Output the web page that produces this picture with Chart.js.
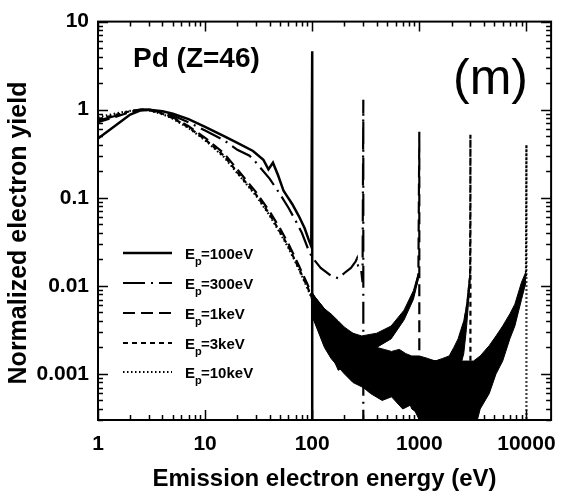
<!DOCTYPE html>
<html>
<head>
<meta charset="utf-8">
<script src="https://cdn.jsdelivr.net/npm/chart.js@4.4.0/dist/chart.umd.min.js"></script>
<style>
html, body { margin: 0; padding: 0; background: #fff; }
canvas { display: block; }
</style>
</head>
<body>
<canvas id="myChart" width="568" height="498"></canvas>
<script>
// tick labels
const xTicks = [1, 10, 100, 1000, 10000];
const yTicks = [0.001, 0.01, 0.1, 1, 10];

// primary energies and heights of the elastic peaks
const primaryE = [100, 300, 1000, 3000, 10000];
const elasticPeak = [4.6, 1.3, 0.56, 0.52, 0.4];
const legendText = ['=100eV', '=300eV', '=1keV', '=3keV', '=10keV'];

// Ep = 100 eV
const e100 = [1, 1.5, 2, 2.5, 3, 4, 5, 7, 10, 15, 20, 28, 35, 39, 43, 48, 54, 58, 65, 75, 85, 93, 98];
const y100 = [0.47, 0.68, 0.88, 0.98, 1.0, 0.96, 0.9, 0.78, 0.64, 0.5, 0.42, 0.34, 0.27, 0.21, 0.25, 0.18, 0.12, 0.105, 0.085, 0.062, 0.045, 0.033, 0.028];

// Ep = 300 eV
const e300 = [1, 1.5, 2, 2.5, 3, 4, 5, 7, 10, 15, 20, 26, 30, 40, 50, 60, 70, 80, 93, 100, 120, 150, 175, 200, 230, 255, 262, 268, 285, 295];
const y300 = [0.75, 0.86, 0.95, 1.0, 1.0, 0.94, 0.86, 0.72, 0.58, 0.45, 0.35, 0.3, 0.25, 0.165, 0.11, 0.077, 0.055, 0.04, 0.025, 0.021, 0.016, 0.013, 0.0122, 0.014, 0.016, 0.019, 0.0205, 0.017, 0.016, 0.011];

// Ep = 1 keV
const e1k = [1, 1.5, 2, 2.5, 3, 4, 5, 7, 10, 15, 20, 30, 40, 50, 60, 75, 90, 100, 133, 200, 290, 400, 545, 720, 880, 980];
const y1k = [0.72, 0.84, 0.94, 1.0, 1.0, 0.92, 0.82, 0.65, 0.48, 0.32, 0.21, 0.115, 0.07, 0.045, 0.03, 0.017, 0.0105, 0.0078, 0.0037, 0.0025, 0.0022, 0.0024, 0.003, 0.0047, 0.0078, 0.013];

// Ep = 3 keV
const e3k = [1, 1.5, 2, 2.5, 3, 4, 5, 7, 10, 15, 20, 30, 40, 50, 60, 75, 90, 100, 150, 200, 300, 400, 550, 750, 1000, 1400, 1900, 2300, 2600, 2850, 2980];
const y3k = [0.78, 0.88, 0.96, 1.0, 0.99, 0.9, 0.8, 0.63, 0.46, 0.3, 0.195, 0.108, 0.065, 0.041, 0.028, 0.0158, 0.0098, 0.0072, 0.0037, 0.0025, 0.0017, 0.0014, 0.0012, 0.0011, 0.001, 0.00095, 0.0011, 0.0018, 0.0033, 0.0072, 0.013];

// Ep = 10 keV
const e10k = [1, 1.5, 2, 2.5, 3, 4, 5, 7, 10, 15, 20, 30, 40, 50, 60, 75, 90, 100, 150, 200, 300, 450, 700, 1000, 1500, 2000, 2500, 3200, 4500, 6000, 7800, 9000, 9900];
const y10k = [0.82, 0.91, 0.97, 1.0, 0.98, 0.89, 0.79, 0.62, 0.45, 0.29, 0.19, 0.105, 0.063, 0.04, 0.027, 0.0155, 0.0095, 0.007, 0.0035, 0.0024, 0.0016, 0.0012, 0.0009, 0.0007, 0.0006, 0.00055, 0.00058, 0.0007, 0.0014, 0.0028, 0.0052, 0.0088, 0.013];

// statistical noise envelopes (upper / lower) of the high energy spectra
const band1kE = [100, 133, 200, 290, 400, 545, 720, 880, 980];
const band1kHi = [0.0085, 0.0045, 0.0031, 0.0027, 0.0029, 0.0035, 0.0053, 0.0088, 0.014];
const band1kLo = [0.0065, 0.003, 0.002, 0.0018, 0.002, 0.0025, 0.0041, 0.007, 0.012];

const band3kE = [100, 130, 150, 175, 200, 240, 300, 350, 400, 470, 550, 650, 750, 850, 1000, 1200, 1400, 1650, 1900, 2100, 2300, 2450, 2600, 2750, 2850, 2980];
const band3kHi = [0.0082, 0.0055, 0.0048, 0.004, 0.0034, 0.0029, 0.0025, 0.0021, 0.002, 0.0019, 0.0018, 0.0019, 0.0017, 0.0016, 0.0016, 0.0015, 0.0014, 0.0015, 0.0016, 0.002, 0.0025, 0.0032, 0.004, 0.0058, 0.0088, 0.0145];
const band3kLo = [0.0045, 0.0022, 0.0017, 0.0011, 0.0012, 0.0009, 0.001, 0.0007, 0.0009, 0.0006, 0.0008, 0.0005, 0.0006, 0.0004, 0.00035, 0.0003, 0.0003, 0.00035, 0.0004, 0.0006, 0.0009, 0.0013, 0.0017, 0.0032, 0.0055, 0.011];

const band10kE = [100, 130, 150, 175, 200, 240, 300, 350, 450, 550, 700, 850, 1000, 1500, 2000, 2500, 3200, 3700, 4500, 5200, 6000, 7000, 7800, 9000, 9900];
const band10kHi = [0.0082, 0.0055, 0.0046, 0.0039, 0.0033, 0.0028, 0.0023, 0.002, 0.0018, 0.0017, 0.0016, 0.0015, 0.0015, 0.0014, 0.0014, 0.0014, 0.0014, 0.0016, 0.0021, 0.0027, 0.0035, 0.0048, 0.0062, 0.011, 0.0145];
const band10kLo = [0.0045, 0.002, 0.0015, 0.0012, 0.001, 0.0008, 0.0007, 0.0006, 0.0005, 0.00055, 0.0004, 0.00045, 0.0003, 0.0002, 0.0002, 0.0002, 0.0002, 0.0004, 0.0006, 0.001, 0.0014, 0.0025, 0.0035, 0.007, 0.011];

const dashes = [[], [22, 6, 2, 6], [12, 6], [5, 4], [1.5, 2.5]];
const widths = [2.5, 2.2, 2.2, 2.2, 2.2];
const FONT = 'Arial, "Liberation Sans", Helvetica, sans-serif';

function pts(xs, ys) {
    return xs.map((x, i) => ({ x: x, y: ys[i] }));
}

// spectrum followed by its elastic peak, then dropping to zero
function spectrum(xs, ys, k) {
    const d = pts(xs, ys);
    d.push({ x: primaryE[k], y: elasticPeak[k] });
    d.push({ x: primaryE[k], y: 1e-6 });
    return d;
}

function bandPair(xs, hi, lo) {
    return [
        { data: pts(xs, hi), borderColor: '#000', borderWidth: 1, pointRadius: 0, fill: false },
        { data: pts(xs, lo), borderColor: '#000', borderWidth: 1, pointRadius: 0, fill: '-1', backgroundColor: '#000' }
    ];
}

const series = [[e100, y100], [e300, y300], [e1k, y1k], [e3k, y3k], [e10k, y10k]];
const lineSets = series.map((s, k) => ({
    label: 'Ep' + legendText[k],
    data: spectrum(s[0], s[1], k),
    borderColor: '#000',
    borderWidth: widths[k],
    borderDash: dashes[k],
    pointRadius: 0,
    fill: false,
    tension: 0
}));

const datasets = lineSets
    .concat(bandPair(band1kE, band1kHi, band1kLo))
    .concat(bandPair(band3kE, band3kHi, band3kLo))
    .concat(bandPair(band10kE, band10kHi, band10kLo));

// frame with inward ticks on all four sides, legend and annotations
const decor = {
    id: 'decor',
    afterDraw(chart) {
        const { ctx, chartArea: { left, right, top, bottom }, scales: { x, y } } = chart;
        ctx.save();
        ctx.strokeStyle = '#000';
        ctx.setLineDash([]);
        ctx.lineWidth = 2;
        ctx.strokeRect(left, top, right - left, bottom - top);

        ctx.lineWidth = 1.5;
        ctx.beginPath();
        for (let p = -4; p <= 5; p++) {
            for (let m = 1; m <= 9; m++) {
                const v = m * Math.pow(10, p);
                const len = m === 1 ? 10 : 5;
                if (v >= x.min && v <= x.max) {
                    const px = Math.round(x.getPixelForValue(v)) + 0.5;
                    ctx.moveTo(px, bottom); ctx.lineTo(px, bottom - len);
                    ctx.moveTo(px, top); ctx.lineTo(px, top + len);
                }
                if (v >= y.min && v <= y.max) {
                    const py = Math.round(y.getPixelForValue(v)) + 0.5;
                    ctx.moveTo(left, py); ctx.lineTo(left + len, py);
                    ctx.moveTo(right, py); ctx.lineTo(right - len, py);
                }
            }
        }
        ctx.stroke();

        // legend
        const rows = [253, 283, 313, 343, 372];
        ctx.fillStyle = '#000';
        rows.forEach((ry, k) => {
            ctx.lineWidth = widths[k];
            ctx.setLineDash(dashes[k]);
            ctx.beginPath();
            ctx.moveTo(123, ry); ctx.lineTo(172, ry);
            ctx.stroke();
            ctx.setLineDash([]);
            ctx.textBaseline = 'alphabetic';
            ctx.textAlign = 'left';
            ctx.font = 'bold 15px ' + FONT;
            ctx.fillText('E', 185, ry + 6);
            const w = ctx.measureText('E').width;
            ctx.font = 'bold 11px ' + FONT;
            ctx.fillText('p', 185 + w, ry + 12);
            ctx.font = 'bold 15px ' + FONT;
            ctx.fillText(legendText[k], 185 + w + 6, ry + 6);
        });

        ctx.textBaseline = 'middle';
        ctx.textAlign = 'left';
        ctx.font = 'bold 28px ' + FONT;
        ctx.fillText('Pd (Z=46)', 133, 59);
        ctx.font = '50px ' + FONT;
        ctx.fillText('(m)', 453, 80);

        // y axis title
        ctx.translate(19, 233);
        ctx.rotate(-Math.PI / 2);
        ctx.textAlign = 'center';
        ctx.font = 'bold 25px ' + FONT;
        ctx.fillText('Normalized electron yield', 0, 0);
        ctx.restore();
    }
};

const ctx = document.getElementById('myChart').getContext('2d');
const myChart = new Chart(ctx, {
    type: 'line',
    data: { datasets: datasets },
    options: {
        responsive: false,
        animation: false,
        layout: { padding: { left: 0, right: 7, top: 15, bottom: 0 } },
        plugins: {
            legend: { display: false },
            tooltip: { enabled: false }
        },
        scales: {
            x: {
                type: 'logarithmic',
                min: 1,
                max: 17000,
                grid: { display: false, drawTicks: false },
                border: { display: false },
                afterBuildTicks: s => { s.ticks = xTicks.map(v => ({ value: v })); },
                afterFit: s => { s.height = 78; },
                ticks: {
                    autoSkip: false,
                    maxRotation: 0,
                    padding: 12,
                    color: '#000',
                    font: { family: FONT, size: 21, weight: 'bold' },
                    callback: v => String(v)
                },
                title: {
                    display: true,
                    text: 'Emission electron energy (eV)',
                    color: '#000',
                    font: { family: FONT, size: 24, weight: 'bold' },
                    padding: { top: 0, bottom: 4 }
                }
            },
            y: {
                type: 'logarithmic',
                min: 0.0003,
                max: 10,
                grid: { display: false, drawTicks: false },
                border: { display: false },
                afterBuildTicks: s => { s.ticks = yTicks.map(v => ({ value: v })); },
                afterFit: s => { s.width = 98; },
                ticks: {
                    padding: 9,
                    color: '#000',
                    font: { family: FONT, size: 21, weight: 'bold' },
                    callback: v => String(v)
                }
            }
        }
    },
    plugins: [decor]
});
</script>
</body>
</html>
